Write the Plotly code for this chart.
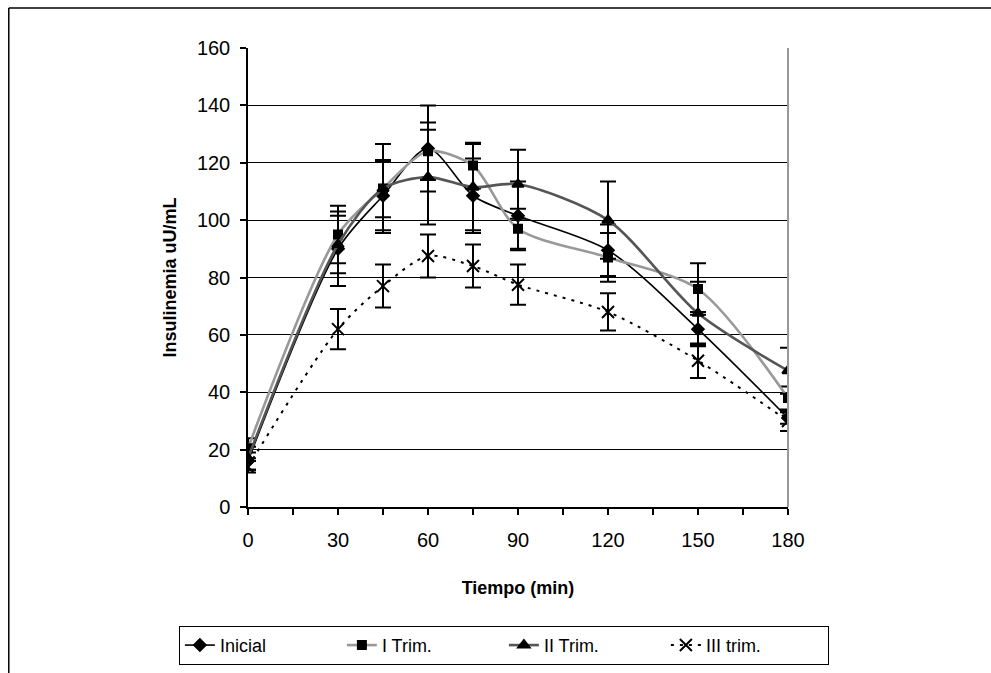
import plotly.graph_objects as go

# Sampling times (min)
tiempo = [0, 30, 45, 60, 75, 90, 120, 150, 180]

# Mean insulinemia (uU/mL) and error per group
inicial = [16, 90, 108.5, 125, 108.5, 101.5, 89.5, 62, 31]
inicial_err = [3, 13, 12, 15, 13, 12, 9, 6, 2]

i_trim = [20.5, 95, 111, 124, 119, 97, 87, 76, 38]
i_trim_err = [3.5, 10, 10, 10, 8, 7, 8.5, 9, 4]

ii_trim = [17, 91.5, 111, 115, 111.5, 112.5, 100, 67.5, 47.5]
ii_trim_err = [4, 10, 15.5, 16.5, 15, 12, 13.5, 11, 8]

iii_trim = [14, 62, 77, 87.5, 84, 77.5, 68, 51, 30]
iii_trim_err = [2, 7, 7.5, 7.5, 7.5, 7, 6.5, 6, 3.5]

x_ticks = [0, 15, 30, 45, 60, 75, 90, 105, 120, 135, 150, 165, 180]
x_labels = ["0", "", "30", "", "60", "", "90", "", "120", "", "150", "", "180"]

FONT = "Arial, Liberation Sans, sans-serif"

series = [
    dict(name="Inicial", y=inicial, err=inicial_err, color="#000000", width=1.6,
         dash="solid", symbol="diamond", size=9),
    dict(name="I Trim.", y=i_trim, err=i_trim_err, color="#999999", width=2.6,
         dash="solid", symbol="square", size=8),
    dict(name="II Trim.", y=ii_trim, err=ii_trim_err, color="#555555", width=2.6,
         dash="solid", symbol="triangle-up", size=10),
    dict(name="III trim.", y=iii_trim, err=iii_trim_err, color="#000000", width=2,
         dash="3px,6px", symbol="x-thin-open", size=12),
]

fig = go.Figure()
for s in series:
    fig.add_trace(go.Scatter(
        x=tiempo, y=s["y"], name=s["name"], mode="lines+markers",
        line=dict(color=s["color"], width=s["width"], dash=s["dash"],
                  shape="spline", smoothing=0.8),
        marker=dict(symbol=s["symbol"], size=s["size"], color="#000000",
                    line=dict(color="#000000", width=2)),
        error_y=dict(type="data", array=s["err"], visible=True,
                     color="#000000", thickness=2, width=8),
    ))

# Outer chart frame (top and left edges)
fig.add_shape(type="line", xref="paper", yref="paper",
              x0=-0.443, x1=1.4, y0=1.087, y1=1.087,
              line=dict(color="#000000", width=1.5))
fig.add_shape(type="line", xref="paper", yref="paper",
              x0=-0.443, x1=-0.443, y0=1.087, y1=-0.37,
              line=dict(color="#000000", width=1.5))
# Right edge of the plot area
fig.add_shape(type="line", xref="paper", yref="paper",
              x0=1, x1=1, y0=0, y1=1,
              line=dict(color="#999999", width=2))

fig.update_layout(
    width=991, height=673,
    margin=dict(l=248, r=203, t=48, b=166, autoexpand=False),
    paper_bgcolor="white", plot_bgcolor="white",
    font=dict(family=FONT, color="#000000", size=18),
    showlegend=True,
    legend=dict(orientation="h", x=-0.128, xanchor="left", y=-0.259, yanchor="top",
                bordercolor="#000000", borderwidth=1, bgcolor="white",
                font=dict(family=FONT, size=18), entrywidth=117,
                tracegroupgap=0, valign="middle"),
    xaxis=dict(range=[0, 180], tickvals=x_ticks, ticktext=x_labels,
               showgrid=False, zeroline=False, showline=True,
               linecolor="#000000", linewidth=1.5,
               ticks="outside", ticklen=6, tickwidth=1.5, tickcolor="#000000",
               tickfont=dict(family=FONT, size=20), ticklabelstandoff=8,
               title=dict(text="<b>Tiempo (min)</b>", standoff=32,
                          font=dict(family=FONT, size=18))),
    yaxis=dict(range=[0, 160], dtick=20,
               showgrid=True, gridcolor="#000000", gridwidth=1,
               zeroline=False, showline=True,
               linecolor="#000000", linewidth=1.5,
               ticks="outside", ticklen=6, tickwidth=1.5, tickcolor="#000000",
               tickfont=dict(family=FONT, size=20), ticklabelstandoff=6,
               title=dict(text="<b>Insulinemia uU/mL</b>", standoff=16,
                          font=dict(family=FONT, size=18))),
)

fig.write_html("out.html")
